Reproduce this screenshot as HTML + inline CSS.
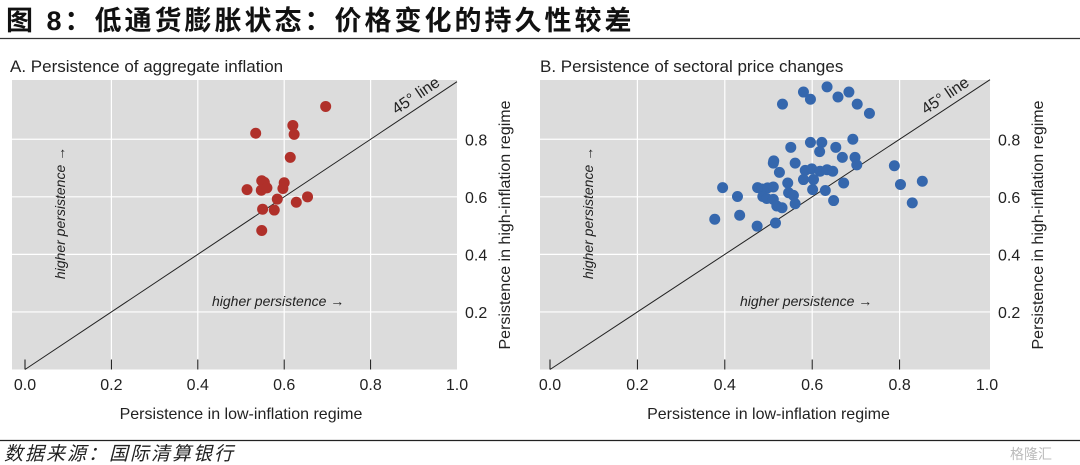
<!DOCTYPE html>
<html><head><meta charset="utf-8"><style>
html,body{margin:0;padding:0;background:#fff;width:1080px;height:465px;overflow:hidden;}
text{font-family:"Liberation Sans","Noto Sans CJK SC",sans-serif;}
</style></head><body>
<svg id="chart" width="1080" height="465" viewBox="0 0 1080 465" xmlns="http://www.w3.org/2000/svg">
<text x="6" y="30" font-size="27" letter-spacing="3" font-weight="bold" fill="#111" font-family="'Noto Serif CJK SC','Noto Sans CJK SC',serif">图 8：低通货膨胀状态：价格变化的持久性较差</text>
<line x1="0" y1="38.5" x2="1080" y2="38.5" stroke="#333" stroke-width="1.2"/>
<text x="10" y="72" font-size="17" fill="#222">A. Persistence of aggregate inflation</text>
<text x="540" y="72" font-size="17" fill="#222">B. Persistence of sectoral price changes</text>
<g id="pa"></g>
<g id="pb"></g>
<line x1="0" y1="440.5" x2="1080" y2="440.5" stroke="#222" stroke-width="1.2"/>
<text x="4" y="460" font-size="19" letter-spacing="2" font-style="italic" fill="#222" font-family="'Noto Serif CJK SC','Noto Sans CJK SC',serif">数据来源：国际清算银行</text>
<text x="1010" y="459" font-size="14" fill="#bbb">格隆汇</text>
</svg>
<script>
const ticks=[0.2,0.4,0.6,0.8];
const xTickLabels=["0.0","0.2","0.4","0.6","0.8","1.0"];
const aggX=[0.696,0.534,0.62,0.623,0.614,0.548,0.554,0.514,0.547,0.56,0.6,0.597,0.584,0.654,0.628,0.55,0.577,0.548];
const aggY=[0.914,0.821,0.848,0.817,0.737,0.656,0.65,0.625,0.623,0.631,0.649,0.629,0.592,0.6,0.581,0.557,0.554,0.483];
const secX=[0.532,0.580,0.596,0.634,0.659,0.684,0.703,0.731,0.551,0.596,0.622,0.617,0.654,0.693,0.669,0.698,0.702,0.512,0.511,0.561,0.525,0.584,0.599,0.618,0.634,0.647,0.580,0.603,0.544,0.672,0.788,0.802,0.852,0.829,0.395,0.429,0.377,0.434,0.475,0.485,0.498,0.511,0.487,0.496,0.511,0.546,0.557,0.601,0.630,0.649,0.561,0.519,0.531,0.474,0.516];
const secY=[0.922,0.964,0.939,0.982,0.947,0.964,0.922,0.890,0.772,0.789,0.789,0.757,0.772,0.8,0.737,0.737,0.711,0.725,0.717,0.717,0.685,0.692,0.697,0.689,0.694,0.689,0.660,0.660,0.648,0.648,0.708,0.643,0.654,0.579,0.632,0.601,0.522,0.536,0.632,0.627,0.631,0.634,0.601,0.594,0.591,0.614,0.605,0.625,0.622,0.587,0.576,0.568,0.562,0.498,0.509];
const NS="http://www.w3.org/2000/svg";
function mk(p,t,a){const e=document.createElementNS(NS,t);for(const k in a)e.setAttribute(k,a[k]);p.appendChild(e);return e;}
function panel(gid,x0,x1,left,right,xs,ys,color,labX){
  const g=document.getElementById(gid);
  const y0=369.5,y1=81.7,top=80;
  const sx=v=>x0+(x1-x0)*v, sy=v=>y0-(y0-y1)*v;
  const bg=mk(g,'rect',{x:left,y:top,width:right-left,height:y0-top,fill:'#dcdcdc'});
  
  for(let i=1;i<5;i++){const l=mk(g,'line',{x1:sx(i*0.2),x2:sx(i*0.2),y1:top,y2:y0,stroke:'#fff','stroke-width':1.2});
    }
  ticks.forEach(t=>{const l=mk(g,'line',{x1:left,x2:right,y1:sy(t),y2:sy(t),stroke:'#fff','stroke-width':1.2});
    
    const tx=mk(g,'text',{x:right+8,y:sy(t)+6,'font-size':16,fill:'#222'});tx.textContent=t.toFixed(1);
    });
  xTickLabels.forEach((s,i)=>{const v=i*0.2;
    if(i<5){const tk=mk(g,'line',{x1:sx(v),x2:sx(v),y1:y0-10,y2:y0,stroke:'#111','stroke-width':1});
      }
    const tx=mk(g,'text',{x:sx(v),y:390,'font-size':16,fill:'#222','text-anchor':'middle'});tx.textContent=s;
    });
  const xe=Math.min(1.02,(right-x0)/(x1-x0));
  const dl=mk(g,'line',{x1:sx(0),y1:sy(0),x2:sx(xe),y2:sy(xe),stroke:'#222','stroke-width':1});
  
  const lt=mk(g,'text',{x:0,y:0,'font-size':16,fill:'#222',transform:`translate(${sx(0.86)},${sy(0.885)}) rotate(-34)`});lt.textContent='45° line';
  
  const hx=mk(g,'text',{x:labX,y:306,'font-size':14,'font-style':'italic',fill:'#222'});hx.textContent='higher persistence →';
  
  const hy=mk(g,'text',{x:0,y:0,'font-size':14,'font-style':'italic',fill:'#222','text-anchor':'middle',transform:`translate(${left+53},${213}) rotate(-90)`});hy.textContent='higher persistence →';
  
  xs.forEach((v,i)=>{const c=mk(g,'circle',{cx:sx(v),cy:sy(ys[i]),r:5.5,fill:color});
    });
  const xt=mk(g,'text',{x:sx(0.5),y:419,'font-size':16,fill:'#222','text-anchor':'middle'});xt.textContent='Persistence in low-inflation regime';
  
  const yt=mk(g,'text',{x:0,y:0,'font-size':16,fill:'#222','text-anchor':'middle',transform:`translate(${right+53},${225}) rotate(-90)`});yt.textContent='Persistence in high-inflation regime';
  
}
panel('pa',25,457,12,457,aggX,aggY,'#b0302a',212);
panel('pb',550,987,540,990,secX,secY,'#3567ad',740);
</script>
</body></html>
